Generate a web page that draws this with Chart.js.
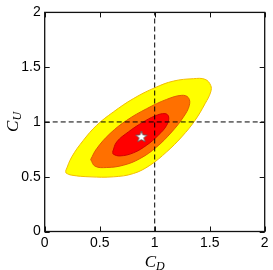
<!DOCTYPE html>
<html>
<head>
<meta charset="utf-8">
<script src="https://cdn.jsdelivr.net/npm/chart.js@4.4.1/dist/chart.umd.min.js"></script>
<style>
  html, body { margin: 0; padding: 0; background: #fff; }
</style>
</head>
<body>
<canvas id="grafico" width="273" height="270"></canvas>
<script>
// Marcas de los ejes
const ticksX = [0, 0.5, 1, 1.5, 2];
const ticksY = [0, 0.5, 1, 1.5, 2];

// Contorno exterior (amarillo)
const amarilloX = [0.191, 0.246, 0.352, 0.473, 0.624, 0.806, 1.003, 1.170, 1.352, 1.458, 1.509, 1.509, 1.458, 1.367, 1.245, 1.109, 0.958, 0.806, 0.624, 0.412, 0.246, 0.194, 0.191];
const amarilloY = [0.554, 0.681, 0.833, 0.970, 1.091, 1.213, 1.313, 1.373, 1.395, 1.389, 1.334, 1.273, 1.167, 1.015, 0.863, 0.727, 0.605, 0.529, 0.499, 0.499, 0.514, 0.535, 0.554];

// Contorno medio (naranja)
const naranjaX = [0.418, 0.473, 0.594, 0.746, 0.927, 1.109, 1.245, 1.306, 1.315, 1.261, 1.155, 1.018, 0.867, 0.715, 0.564, 0.458, 0.418];
const naranjaY = [0.657, 0.757, 0.894, 1.015, 1.121, 1.206, 1.243, 1.222, 1.152, 1.045, 0.909, 0.772, 0.666, 0.605, 0.584, 0.596, 0.657];

// Contorno interior (rojo)
const rojoX = [0.618, 0.655, 0.761, 0.882, 1.003, 1.094, 1.127, 1.109, 1.033, 0.927, 0.806, 0.685, 0.624, 0.618];
const rojoY = [0.727, 0.818, 0.909, 0.991, 1.055, 1.076, 1.046, 0.970, 0.879, 0.788, 0.718, 0.690, 0.706, 0.727];

// Mejor ajuste (estrella)
const mejorX = [0.879];
const mejorY = [0.863];

// Lineas de referencia
const refHX = [0, 2];
const refHY = [1, 1];
const refVX = [1, 1];
const refVY = [0, 2];

function puntos(xs, ys) {
  return xs.map((x, i) => ({ x, y: ys[i] }));
}

function crearEstrella(r) {
  const c = document.createElement('canvas');
  const s = Math.ceil(r * 2 + 4);
  c.width = s; c.height = s;
  const ctx = c.getContext('2d');
  ctx.beginPath();
  for (let i = 0; i < 10; i++) {
    const rad = i % 2 ? r * 0.42 : r;
    const a = -Math.PI / 2 + i * Math.PI / 5;
    ctx.lineTo(s / 2 + rad * Math.cos(a), s / 2 + rad * Math.sin(a));
  }
  ctx.closePath();
  ctx.fillStyle = '#fff';
  ctx.fill();
  ctx.strokeStyle = '#555';
  ctx.lineWidth = 0.8;
  ctx.stroke();
  return c;
}

function contorno(xs, ys, relleno, borde) {
  return {
    data: puntos(xs, ys),
    showLine: true,
    fill: 'shape',
    backgroundColor: relleno,
    borderColor: borde,
    borderWidth: 1,
    tension: 0.4,
    pointRadius: 0
  };
}

function linea(xs, ys) {
  return {
    data: puntos(xs, ys),
    showLine: true,
    fill: false,
    borderColor: '#000',
    borderWidth: 1,
    borderDash: [5, 3],
    pointRadius: 0
  };
}

// Marco, marcas hacia dentro y titulos con subindice
const marco = {
  id: 'marco',
  afterDraw(chart) {
    const { ctx, chartArea: a, scales } = chart;
    ctx.save();
    ctx.strokeStyle = '#111';
    ctx.lineWidth = 1;
    ticksX.forEach(v => {
      const px = Math.round(scales.x.getPixelForValue(v)) + 0.5;
      ctx.beginPath();
      ctx.moveTo(px, a.bottom); ctx.lineTo(px, a.bottom - 5);
      ctx.moveTo(px, a.top); ctx.lineTo(px, a.top + 5);
      ctx.stroke();
    });
    ticksY.forEach(v => {
      const py = Math.round(scales.y.getPixelForValue(v)) + 0.5;
      ctx.beginPath();
      ctx.moveTo(a.left, py); ctx.lineTo(a.left + 5, py);
      ctx.moveTo(a.right, py); ctx.lineTo(a.right - 5, py);
      ctx.stroke();
    });
    ctx.lineWidth = 1.3;
    ctx.strokeRect(a.left, a.top, a.right - a.left, a.bottom - a.top);

    ctx.fillStyle = '#000';
    ctx.textBaseline = 'alphabetic';
    const grande = 'italic 17px "Liberation Serif"';
    const chico = 'italic 12px "Liberation Serif"';
    // C_D
    ctx.font = grande;
    const wC = ctx.measureText('C').width;
    ctx.font = chico;
    const wD = ctx.measureText('D').width;
    let x0 = scales.x.getPixelForValue(1) - (wC + wD) / 2;
    ctx.font = grande;
    ctx.fillText('C', x0, 267);
    ctx.font = chico;
    ctx.fillText('D', x0 + wC, 270);
    // C_U
    ctx.font = chico;
    const wU = ctx.measureText('U').width;
    ctx.translate(18, (a.top + a.bottom) / 2);
    ctx.rotate(-Math.PI / 2);
    x0 = -(wC + wU) / 2;
    ctx.font = grande;
    ctx.fillText('C', x0, 0);
    ctx.font = chico;
    ctx.fillText('U', x0 + wC, 3);
    ctx.restore();
  }
};

const fuenteTicks = { family: '"Liberation Sans", Arial, sans-serif', size: 14 };

new Chart(document.getElementById('grafico'), {
  type: 'scatter',
  data: {
    datasets: [
      { data: puntos(mejorX, mejorY), pointStyle: crearEstrella(6), pointRadius: 6, showLine: false },
      linea(refHX, refHY),
      linea(refVX, refVY),
      contorno(rojoX, rojoY, '#ff0000', '#d00000'),
      contorno(naranjaX, naranjaY, '#ff7000', '#e05a00'),
      contorno(amarilloX, amarilloY, '#ffff00', '#f2bd00')
    ]
  },
  options: {
    responsive: false,
    animation: false,
    devicePixelRatio: 1,
    layout: { padding: { top: 12, right: 8.3, left: 0, bottom: 0 } },
    plugins: { legend: { display: false }, tooltip: { enabled: false } },
    scales: {
      x: {
        type: 'linear', min: 0, max: 2,
        afterBuildTicks: s => { s.ticks = ticksX.map(v => ({ value: v })); },
        ticks: { font: fuenteTicks, color: '#000', padding: 3, maxRotation: 0, callback: v => String(v) },
        grid: { display: false, drawTicks: false },
        border: { display: false },
        afterFit: s => { s.height = 38.5; }
      },
      y: {
        type: 'linear', min: 0, max: 2,
        afterBuildTicks: s => { s.ticks = ticksY.map(v => ({ value: v })); },
        ticks: { font: fuenteTicks, color: '#000', padding: 4, callback: v => String(v) },
        grid: { display: false, drawTicks: false },
        border: { display: false },
        afterFit: s => { s.width = 44.7; }
      }
    }
  },
  plugins: [marco]
});
</script>
</body>
</html>
